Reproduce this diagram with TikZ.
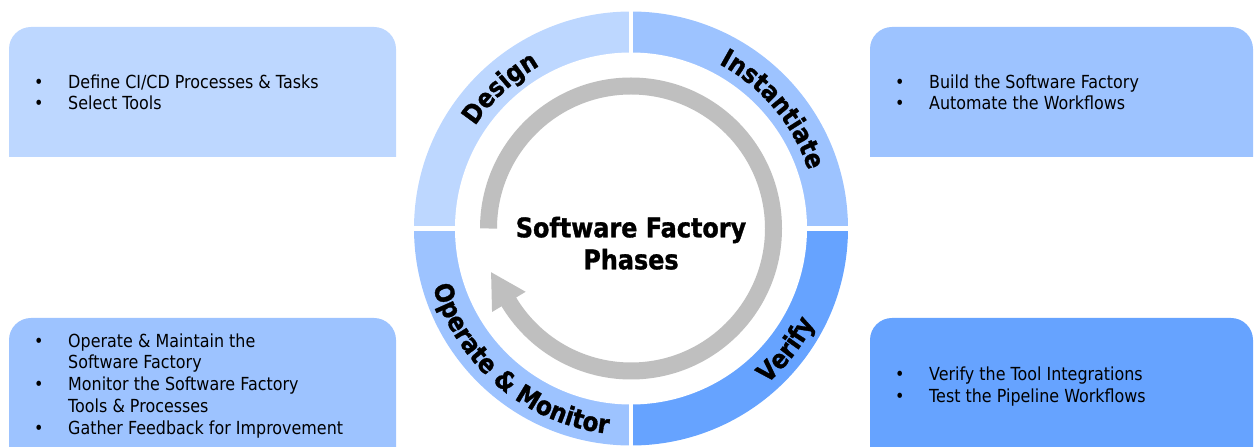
\documentclass[tikz,border=0pt]{standalone}
\usepackage{fontspec}
\setmainfont{DejaVu Sans}[FakeStretch=0.885, BoldFeatures={FakeBold=1.2}]
\usetikzlibrary{decorations.text}
\definecolor{designblue}{HTML}{BDD7FF}
\definecolor{midblue}{HTML}{9DC3FF}
\definecolor{verifyblue}{HTML}{66A3FF}
\definecolor{cyclegray}{HTML}{BFBFBF}
\newcommand{\itm}{\makebox[34pt][l]{\textbullet}}
\newcommand{\gap}{\hspace*{34pt}}
\tikzset{
    x=1pt,
    y=1pt,
    bodytext/.style = {
        anchor=base west,
        inner sep=0pt,
        font=\fontsize{18}{21.7}\selectfont
    },
    headtext/.style = {
        anchor=base,
        inner sep=0pt,
        font=\fontsize{27}{32}\selectfont\bfseries
    },
    ringlabel/.style = {
        decorate,
        decoration={text along path, text align=center,
            text={|\fontsize{26}{30}\selectfont\bfseries|#1}}
    },
}

\begin{document}
\begin{tikzpicture}
    \useasboundingbox (0,0) rectangle (1254,447);
    \coordinate (hub) at (631,218.5);

    % panels
    \fill[designblue] (9,290) -- (9,398) arc[start angle=180, end angle=90, radius=22] -- (374,420) arc[start angle=90, end angle=0, radius=22] -- (396,290) -- cycle;
    \fill[midblue] (870,290) -- (870,398) arc[start angle=180, end angle=90, radius=22] -- (1231,420) arc[start angle=90, end angle=0, radius=22] -- (1253,290) -- cycle;
    \fill[midblue] (9,0) -- (9,107) arc[start angle=180, end angle=90, radius=22] -- (374,129) arc[start angle=90, end angle=0, radius=22] -- (396,0) -- cycle;
    \fill[verifyblue] (870,0) -- (870,107) arc[start angle=180, end angle=90, radius=22] -- (1231,129) arc[start angle=90, end angle=0, radius=22] -- (1253,0) -- cycle;

    % ring
    \foreach \a/\col in {0/midblue, 90/designblue, 180/midblue, 270/verifyblue}
        \fill[\col] (hub) -- ([shift={(\a:217)}]hub) arc[start angle=\a, end angle=\a+90, radius=217] -- cycle;
    \fill[white] (hub) circle[radius=176];
    \draw[white, line width=4.5] ([yshift=-220]hub) -- ([yshift=220]hub);
    \draw[white, line width=4.5] ([xshift=-220]hub) -- ([xshift=220]hub);

    % cycle arrow
    \draw[cyclegray, line width=17] ([shift={(180:142.5)}]hub) arc[start angle=180, end angle=-150, radius=142.5];
    \fill[cyclegray] ([shift={(211:162.1)}]hub) -- ([shift={(211:122.9)}]hub) -- ([shift={(197.35:146.6)}]hub) -- cycle;

    % phase labels
    \path[ringlabel=Design] ([shift={(173:186.5)}]hub) arc[start angle=173, end angle=93, radius=186.5];
    \path[ringlabel=Instantiate] ([shift={(90:186.5)}]hub) arc[start angle=90, end angle=-10, radius=186.5];
    \path[ringlabel=Verify] ([shift={(-68:206.5)}]hub) arc[start angle=-68, end angle=-8, radius=206.5];
    \path[ringlabel={Operate {\&} Monitor}] ([shift={(180:206.5)}]hub) arc[start angle=180, end angle=280, radius=206.5];

    \node[headtext] (phases) at (631,209.7) {\begin{tabular}[t]{@{}c@{}}Software Factory\\Phases\end{tabular}};

    % task lists
    \node[bodytext] (designlist) at (34,358.7) {\begin{tabular}[t]{@{}l@{}}\itm Define CI/CD Processes \& Tasks\\ \itm Select Tools\end{tabular}};
    \node[bodytext] (buildlist) at (895,358.7) {\begin{tabular}[t]{@{}l@{}}\itm Build the Software Factory\\ \itm Automate the Workflows\end{tabular}};
    \node[bodytext] (operatelist) at (34,99.7) {\begin{tabular}[t]{@{}l@{}}\itm Operate \& Maintain the\\ \gap Software Factory\\ \itm Monitor the Software Factory\\ \gap Tools \& Processes\\ \itm Gather Feedback for Improvement\end{tabular}};
    \node[bodytext] (verifylist) at (895,66.3) {\begin{tabular}[t]{@{}l@{}}\itm Verify the Tool Integrations\\ \itm Test the Pipeline Workflows\end{tabular}};
\end{tikzpicture}
\end{document}
